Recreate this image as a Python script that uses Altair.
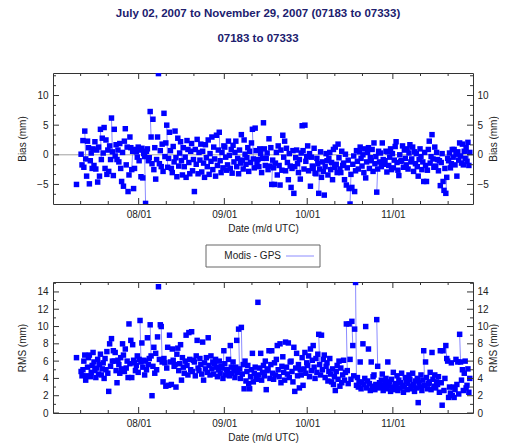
import altair as alt
import pandas as pd

TITLE = "July 02, 2007 to November 29, 2007 (07183 to 07333)"
SUBTITLE = "07183 to 07333"
X_TITLE = "Date (m/d UTC)"
BIAS_TITLE = "Bias (mm)"
RMS_TITLE = "RMS (mm)"
SERIES = "Modis - GPS"

# x axis (dates)
X_DOMAIN = [(2007, 7, 1), (2007, 11, 30)]
MAJOR_X = [(2007, 8, 1), (2007, 9, 1), (2007, 10, 1), (2007, 11, 1)]
MINOR_X = [(2007, 7, 11), (2007, 7, 21), (2007, 8, 11), (2007, 8, 21), (2007, 9, 11),
           (2007, 9, 21), (2007, 10, 11), (2007, 10, 21), (2007, 11, 11), (2007, 11, 21)]

# y axes
BIAS_DOMAIN = [-8.3, 13.8]
BIAS_MAJOR = [-5, 0, 5, 10]
BIAS_MINOR = [-6.667, -3.333, -1.667, 1.667, 3.333, 6.667, 8.333, 11.667, 13.333]
RMS_DOMAIN = [0, 15.15]
RMS_MAJOR = [0, 2, 4, 6, 8, 10, 12, 14]
RMS_MINOR = [1, 3, 5, 7, 9, 11, 13, 15]

# samples: one lone first sample, then three per day from July 11 (day 10) to Nov 28 (day 150)
FIRST_TIME = "2007-07-09 12:00"
FIRST_BIAS = -5.0
FIRST_RMS = 6.4
SAMPLES_START = "2007-07-11 04:00"
SAMPLE_STEP_HOURS = 8
FIRST_DAY = 10

BIAS = [
    0.1, -1.7, 2.4, -2.1, 4.0, -0.7, -3.6, 2.3, 1.2, -4.9, -1.0, 0.3, -2.3, 1.0, -1.8,
    2.2, -2.4, 0.8, -4.6, 1.3, -3.6, 4.3, -0.8, 2.8, 0.3, 4.6, -2.3, 2.5, -3.3, 0.8,
    -2.8, 1.5, -0.8, 6.2, 0.5, -3.5, 4.3, -0.2, 1.7, -0.8, 0.8, -1.2, 1.9, -2.3, -4.5,
    0.4, -5.3, 2.3, 4.4, -1.7, 1.3, -6.2, -3.4, 3.0, 1.2, -2.5, 0.6, -5.7, -2.3, 0.9,
    0.5, -0.4, 1.3, -1.0, 0.8, -3.7, 1.1, -3.9, 0.2, -0.3, -8.2, 0.6, 1.0, -1.0, -0.5,
    7.3, 3.0, -1.5, 6.0, -2.5, 1.2, -4.1, -0.8, 3.0, 13.7, -1.5, 0.7, -2.0, 1.8, -2.8,
    7.0, -0.3, 2.0, 5.0, -2.1, -0.6, 3.8, 0.7, -2.3, -3.0, 1.4, -1.2, 4.0, -0.5, -3.7,
    2.8, -1.9, 0.3, 2.2, -1.0, -3.4, 1.2, -2.0, -0.4, -3.8, 2.4, 0.9, -1.3, -3.2, 0.6,
    1.9, -2.7, -0.8, -6.2, 0.9, -1.6, 2.6, -3.2, 0.4, -0.9, 1.8, -2.9, 0.6, -1.4, -3.8,
    1.7, -0.5, -2.0, 2.5, -3.3, 0.2, -1.1, 3.0, -2.5, 1.3, -0.7, -3.6, 3.3, -1.8, 0.8,
    3.8, -1.0, -3.0, 0.4, -2.2, 1.5, 1.3, -0.4, -2.6, -1.7, 2.3, -0.1, -2.3, 0.9, -3.1,
    1.6, -1.2, 0.4, 2.3, -2.0, -0.6, -3.2, 0.8, -1.4, 3.4, -0.9, -2.4, 2.5, 0.1, -1.6,
    -0.5, 1.2, -2.8, 0.6, -1.3, 2.0, 4.3, -0.7, -2.2, 4.5, 0.7, -1.5, -0.8, -2.0, 1.0,
    0.2, -3.0, -0.6, 5.4, 1.0, -1.8, -0.6, 0.3, -2.5, 2.7, -1.9, 1.2, -5.0, -0.9, -2.2,
    -5.0, -1.4, 0.4, -3.4, 1.5, -1.8, -5.1, 0.8, -2.6, 3.3, -0.4, 2.3, -2.7, 1.1, -1.3,
    -4.2, 0.2, -1.9, -5.5, -2.3, 0.7, -6.5, -2.0, -0.5, 0.8, -1.5, -3.0, -0.8, -4.1, 0.3,
    4.9, 0.7, -2.4, 5.0, -1.1, -0.3, 1.5, -2.7, 0.2, -5.3, -0.4, -1.9, -2.3, 1.1, -3.1,
    -3.2, -0.6, -1.5, -6.5, -2.4, 0.5, -3.8, -1.2, -2.8, -6.8, -2.0, 0.2, -1.0, -3.4, -0.6,
    0.4, -2.5, -1.3, -4.2, 0.9, -2.1, 1.3, -1.6, -3.0, 1.8, -0.5, -2.4, -3.0, 0.6, -1.8,
    -1.4, -4.2, 0.1, -5.1, -2.2, -0.9, -5.7, -8.3, -3.3, -5.5, -1.6, -0.2, -6.2, -2.7, 0.7,
    -1.1, -2.4, 0.5, 1.3, -0.6, -1.9, 0.0, -3.0, 1.0, -3.9, -1.2, 0.4, 1.2, -2.3, -0.5,
    -1.0, 0.9, -2.8, 2.0, -1.5, -0.3, -6.3, -2.4, 0.6, -1.2, 0.3, -2.0, 2.0, -0.8, -1.6,
    -1.0, 0.6, -2.9, 0.5, -1.8, -0.4, 1.0, -2.5, 0.2, -2.2, -0.9, 1.4, 2.2, -1.3, -2.6,
    -3.5, 0.0, -1.1, -1.0, 1.5, -2.1, 0.8, -0.6, -1.7, 1.0, -2.4, 0.3, 1.7, -1.2, -0.7,
    1.3, -2.8, 0.5, -1.5, 0.2, -2.0, -3.6, -0.8, 1.0, -0.3, -2.5, -1.2, -4.5, 0.4, -1.8,
    -4.5, -2.6, 0.9, 2.3, -1.4, -0.3, 3.4, -0.7, -2.1, 1.3, -1.9, 0.4, -0.8, -2.7, -1.0,
    -5.2, -1.3, 0.2, -4.5, -6.0, -2.3, -6.5, -3.8, -0.6, -1.0, 0.3, -2.2, -1.5, 0.9, -0.4,
    0.9, -1.7, 0.1, -3.6, 0.5, -0.9, 2.0, -0.2, -1.4, 1.8, -1.7, 0.6, -0.6, 1.2, -1.1,
    2.1, -1.8, 0.4,
]

RMS = [
    4.8, 4.3, 5.0, 6.0, 6.7, 3.8, 4.3, 5.3, 6.4, 6.7, 4.2, 4.7, 5.5, 7.0, 5.9,
    4.9, 4.1, 5.2, 6.2, 4.5, 5.6, 6.8, 4.4, 5.1, 5.8, 4.0, 6.3, 5.0, 7.1, 4.6,
    2.5, 8.0, 5.4, 8.6, 6.0, 7.2, 6.0, 7.0, 4.9, 3.5, 6.1, 5.6, 4.6, 6.4, 5.1,
    8.0, 6.7, 4.8, 7.4, 5.2, 6.0, 4.1, 10.3, 5.7, 8.4, 4.1, 7.9, 6.1, 5.8, 4.9,
    5.5, 6.6, 4.7, 6.2, 10.7, 5.9, 8.1, 5.3, 6.1, 4.4, 6.0, 5.0, 8.7, 5.6, 6.3,
    10.2, 6.6, 2.0, 5.4, 7.6, 4.6, 6.9, 5.0, 8.8, 14.6, 6.2, 10.2, 10.0, 5.9, 3.6,
    6.3, 5.8, 3.1, 5.2, 7.6, 3.2, 9.0, 5.9, 3.3, 7.4, 6.1, 5.4, 5.6, 3.0, 6.8,
    7.5, 4.9, 5.7, 7.9, 3.8, 6.4, 5.3, 4.6, 6.0, 9.0, 5.5, 4.4, 9.3, 6.2, 5.0,
    9.4, 4.8, 6.1, 5.9, 4.3, 6.6, 8.4, 5.2, 4.9, 6.3, 5.6, 4.5, 8.2, 3.8, 5.8,
    5.1, 6.4, 4.7, 8.7, 5.5, 4.4, 6.6, 5.1, 5.9, 4.5, 5.7, 6.2, 5.3, 4.2, 5.0,
    6.0, 4.6, 5.4, 5.2, 4.0, 7.2, 5.7, 4.4, 5.0, 4.8, 6.2, 4.3, 7.8, 5.3, 4.6,
    5.9, 4.9, 4.1, 5.3, 8.4, 4.7, 9.7, 5.1, 4.0, 9.9, 4.5, 5.6, 2.8, 6.0, 3.7,
    4.8, 5.5, 3.4, 2.8, 4.2, 5.0, 6.9, 3.6, 4.6, 5.3, 4.1, 3.9, 12.8, 4.4, 5.2,
    6.9, 3.8, 4.7, 5.5, 4.3, 6.0, 2.7, 4.9, 5.1, 7.2, 4.0, 5.6, 7.2, 4.6, 3.9,
    5.8, 4.4, 6.2, 7.8, 5.0, 4.2, 8.0, 3.5, 5.4, 6.5, 4.7, 3.8, 8.2, 5.3, 4.5,
    8.1, 4.1, 5.9, 6.0, 4.8, 3.6, 7.6, 2.5, 5.2, 6.9, 4.3, 5.6, 2.9, 5.0, 4.4,
    6.4, 3.2, 5.1, 7.0, 4.6, 5.8, 5.5, 6.6, 4.2, 7.4, 4.9, 6.1, 7.8, 5.3, 4.0,
    6.3, 4.7, 6.8, 9.1, 5.6, 4.4, 9.0, 5.0, 6.2, 6.7, 4.1, 5.4, 5.8, 3.7, 4.8,
    6.3, 4.5, 3.6, 5.1, 3.3, 4.2, 2.6, 4.8, 5.5, 3.9, 6.0, 3.1, 5.2, 3.5, 4.4,
    6.1, 3.8, 4.7, 10.3, 4.9, 3.4, 10.3, 6.2, 3.9, 10.6, 7.8, 4.3, 9.7, 15.1, 3.2,
    4.1, 3.0, 3.6, 5.9, 2.8, 3.5, 8.0, 3.3, 4.0, 10.0, 2.9, 3.7, 7.4, 3.4, 2.6,
    5.9, 3.1, 4.2, 4.4, 2.7, 3.3, 10.8, 5.4, 2.9, 3.5, 3.0, 3.8, 4.5, 2.6, 3.2,
    3.4, 4.0, 2.8, 5.9, 3.1, 3.6, 2.5, 3.9, 3.0, 4.7, 2.7, 3.4, 3.2, 4.3, 2.6,
    3.8, 2.9, 3.5, 4.6, 3.2, 2.4, 3.0, 4.1, 3.6, 2.7, 3.4, 4.4, 3.9, 2.8, 3.1,
    4.6, 3.3, 2.5, 3.7, 2.9, 4.0, 1.2, 3.5, 3.0, 4.4, 2.6, 3.8, 7.2, 3.2, 5.9,
    4.1, 2.8, 3.4, 3.6, 4.7, 2.7, 7.0, 3.9, 3.1, 4.4, 2.9, 3.6, 3.3, 4.2, 2.4,
    7.2, 3.5, 0.9, 7.2, 2.6, 4.0, 7.8, 6.3, 6.0, 1.8, 3.0, 2.3, 5.8, 2.0, 3.0,
    1.8, 2.7, 6.2, 3.3, 5.9, 2.2, 9.1, 5.9, 3.8, 5.0, 2.6, 4.6, 6.0, 2.9, 3.2,
    5.1, 2.4, 4.0,
]

# (day, sample-of-day) pairs whose sample is joined by the line to the following one
BIAS_LINKS = [(11, 1), (17, 0), (21, 0), (28, 1), (33, 0), (35, 0), (41, 0), (46, 0),
              (60, 0), (72, 0), (79, 0), (89, 0), (96, 0), (100, 0), (107, 1), (117, 0),
              (142, 0), (150, 0)]
RMS_LINKS = [(31, 1), (35, 0), (39, 0), (61, 1), (64, 0), (67, 0), (68, 0), (96, 0),
             (106, 0), (108, 0), (109, 1), (117, 0), (134, 0), (142, 0), (147, 0)]

assert len(BIAS) == len(RMS)

POINT_COLOR = "#0000ff"
LINE_COLOR = "#8c8cff"
FRAME = "#333333"
TEXT = "#222222"
NAVY = "#20206e"
FONT = "Liberation Sans"
W, H = 420, 131
GAP = 78


def dt(t):
    return alt.DateTime(year=t[0], month=t[1], date=t[2])


times = [pd.Timestamp(FIRST_TIME)] + list(
    pd.Timestamp(SAMPLES_START) + pd.to_timedelta([i * SAMPLE_STEP_HOURS for i in range(len(BIAS))], unit="h"))
df = pd.DataFrame({"time": times, "bias": [FIRST_BIAS] + BIAS, "rms": [FIRST_RMS] + RMS})


def segments(links, n):
    joined = {1 + 3 * (d - FIRST_DAY) + k for d, k in links}
    seg, cur = [], 0
    for i in range(n):
        if i > 0 and (i - 1) in joined:
            seg.append(seg[-1])
        else:
            cur += 1
            seg.append(cur)
    return seg


df["seg_bias"] = segments(BIAS_LINKS, len(df))
df["seg_rms"] = segments(RMS_LINKS, len(df))

xs = alt.Scale(domain=[dt(X_DOMAIN[0]), dt(X_DOMAIN[1])], nice=False)
x_axis = alt.Axis(values=[dt(t) for t in MAJOR_X], format="%m/%d", ticks=False, domain=False,
                  grid=False, labelPadding=5, title=X_TITLE, titlePadding=4, labelFlush=False)

xt_major = pd.DataFrame({"t": [pd.Timestamp(*t) for t in MAJOR_X]})
xt_minor = pd.DataFrame({"t": [pd.Timestamp(*t) for t in MINOR_X]})


def panel(field, seg, ytitle, domain, major, minor, zero):
    ys = alt.Scale(domain=domain, nice=False, zero=False)
    ax_l = alt.Axis(values=major, ticks=False, domain=False, grid=False, labelPadding=5,
                    title=ytitle, titlePadding=9)
    ax_r = alt.Axis(values=major, ticks=False, domain=False, grid=False, labelPadding=4,
                    title=ytitle, titlePadding=10, orient="right", titleAngle=270)
    X = alt.X("time:T", scale=xs, axis=x_axis)
    Y = alt.Y(f"{field}:Q", scale=ys, axis=ax_l)

    counts = df[seg].map(df[seg].value_counts())
    line_df = df[counts > 1]
    layers = [
        alt.Chart(line_df).mark_line(color=LINE_COLOR, strokeWidth=1, clip=True).encode(
            x=X, y=Y, detail=f"{seg}:N"),
    ]
    if zero:
        layers.append(alt.Chart(pd.DataFrame({"v": [0]})).mark_rule(color="#a0a0a0", strokeWidth=1).encode(
            y=alt.Y("v:Q", scale=ys, axis=ax_l)))
    layers.append(alt.Chart(df).mark_square(size=30, color=POINT_COLOR, opacity=1, filled=True, clip=True).encode(
        x=X, y=Y))

    maj = pd.DataFrame({"v": [v for v in major if domain[0] <= v <= domain[1]]})
    mnr = pd.DataFrame({"v": [v for v in minor if domain[0] <= v <= domain[1]]})
    Yt = alt.Y("v:Q", scale=ys, axis=ax_l)
    Xt = alt.X("t:T", scale=xs, axis=x_axis)
    for data, ln in ((maj, 6), (mnr, 3)):
        layers.append(alt.Chart(data).mark_rule(color=FRAME).encode(y=Yt, x=alt.value(0), x2=alt.value(ln)))
    for data, ln in ((xt_major, 6), (xt_minor, 3)):
        layers.append(alt.Chart(data).mark_rule(color=FRAME).encode(x=Xt, y=alt.value(H - ln), y2=alt.value(H)))
        layers.append(alt.Chart(data).mark_rule(color=FRAME).encode(x=Xt, y=alt.value(0), y2=alt.value(ln)))
    inner = alt.layer(*layers)

    Yr = alt.Y("v:Q", scale=ys, axis=ax_r)
    right = alt.layer(
        alt.Chart(maj).mark_rule(color=FRAME).encode(y=Yr, x=alt.value(W - 6), x2=alt.value(W)),
        alt.Chart(mnr).mark_rule(color=FRAME).encode(y=Yr, x=alt.value(W - 3), x2=alt.value(W)),
    )
    return alt.layer(inner, right).resolve_scale(y="independent").properties(width=W, height=H)


top = panel("bias", "seg_bias", BIAS_TITLE, BIAS_DOMAIN, BIAS_MAJOR, BIAS_MINOR, True)
bottom = panel("rms", "seg_rms", RMS_TITLE, RMS_DOMAIN, RMS_MAJOR, RMS_MINOR, False)

leg_df = pd.DataFrame({"label": [SERIES]})
legend = alt.layer(
    alt.Chart(leg_df).mark_rect(fill="white", stroke="#666666", strokeWidth=1).encode(
        x=alt.value(153), x2=alt.value(267), y=alt.value(41), y2=alt.value(63)),
    alt.Chart(leg_df).mark_text(align="right", baseline="middle", font=FONT, fontSize=10, color=TEXT).encode(
        text="label:N", x=alt.value(228), y=alt.value(52)),
    alt.Chart(leg_df).mark_rule(color=LINE_COLOR, strokeWidth=1).encode(
        x=alt.value(233), x2=alt.value(261), y=alt.value(52)),
).properties(width=W, height=GAP, view=alt.ViewBackground(stroke="transparent"))

chart = alt.vconcat(top, legend, bottom, spacing=0, bounds="flush").properties(
    title=alt.TitleParams(TITLE, subtitle=SUBTITLE, anchor="middle", font=FONT, fontSize=11.5,
                          fontWeight="bold", color=NAVY, subtitleFont=FONT, subtitleFontSize=11.5,
                          subtitleFontWeight="bold", subtitleColor=NAVY, subtitlePadding=13, offset=28),
    padding={"left": 17, "top": 8, "right": 0, "bottom": 0},
    background="white",
).configure_view(stroke=FRAME, strokeWidth=1).configure_axis(
    labelFont=FONT, labelFontSize=10, labelColor=TEXT, titleFont=FONT, titleFontSize=10,
    titleColor=TEXT, titleFontWeight="normal")

chart.save("out.html", embed_options={"renderer": "svg", "actions": False})
